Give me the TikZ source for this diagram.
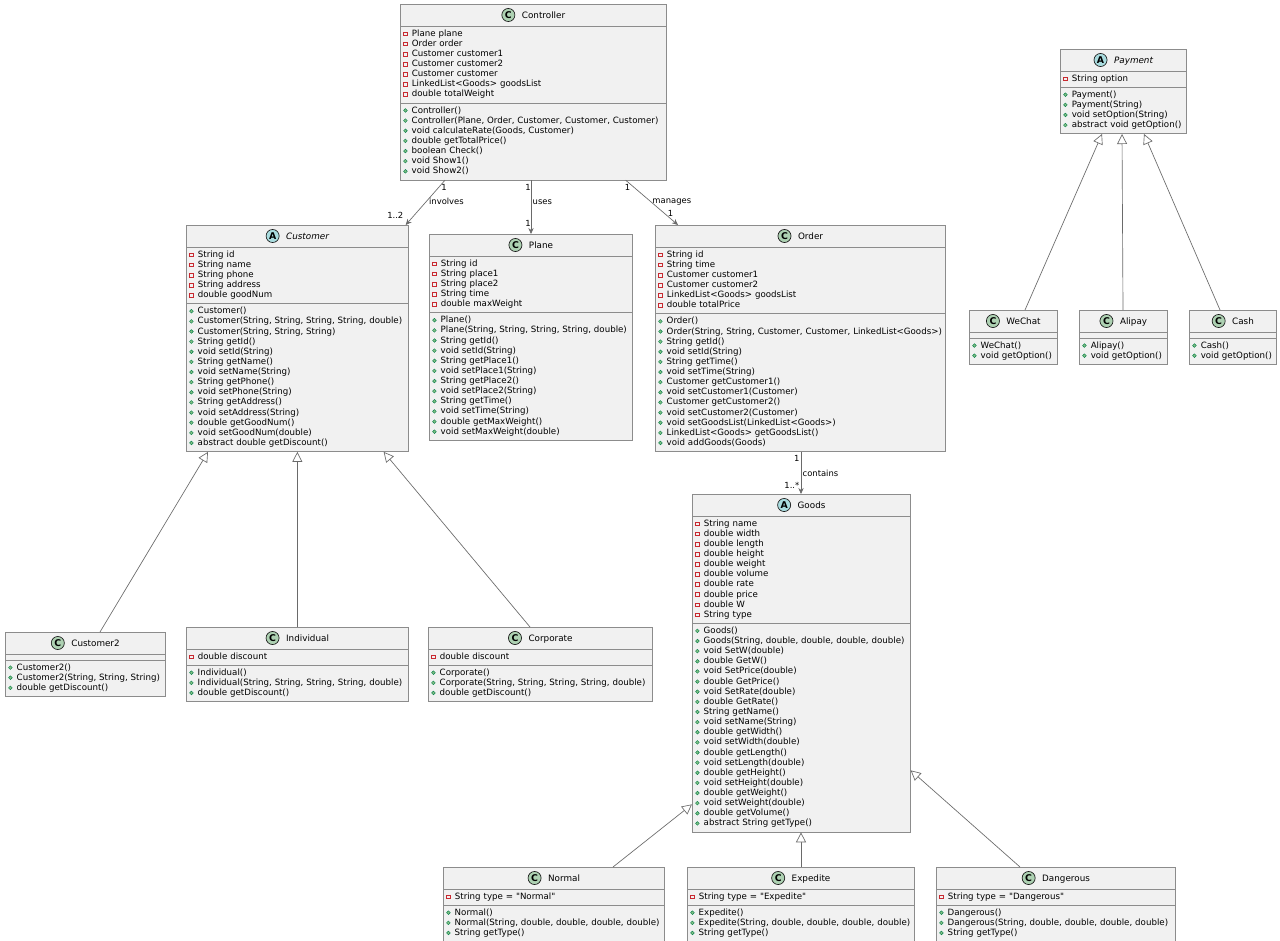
\documentclass[tikz,border=0pt]{standalone}
\usepackage{fontspec}
\setmainfont{DejaVu Sans}
\usetikzlibrary{arrows.meta,shapes.multipart,calc}

\definecolor{classbg}{HTML}{F1F1F1}
\definecolor{classline}{HTML}{8C8C8C}
\definecolor{edgecol}{HTML}{6A6A6A}
\definecolor{privcol}{HTML}{C82930}
\definecolor{pubfill}{HTML}{84BE84}
\definecolor{publine}{HTML}{038048}
\definecolor{iconC}{HTML}{ADD1B2}
\definecolor{iconA}{HTML}{A9DCDF}
\definecolor{iconline}{HTML}{181818}

% member markers and class header
\newcommand\pv{\strut\tikz[baseline=-0.4pt]\draw[privcol,line width=0.4pt] (0pt,0pt) rectangle (2.8pt,2.8pt);\hspace{3.2pt}}
\newcommand\pb{\strut\tikz[baseline=-1.9pt]\filldraw[fill=pubfill,draw=publine,line width=0.3pt] (0pt,0pt) circle (1.4pt);\hspace{3.2pt}}
\newcommand\hdr[3]{\hbox to\hsize{\hfil\rule[-3.6pt]{0pt}{11.75pt}\tikz[baseline=-2.4pt]\filldraw[fill=#1,draw=iconline,line width=0.5pt] (0pt,0pt) circle (4.9pt);\llap{\makebox[10.3pt]{\fontsize{7}{7}\selectfont\bfseries #2}}\hspace{5pt}{\fontsize{6.6}{7.6}\selectfont #3}\hfil}}

\tikzset{
  umlclass/.style={rectangle split, rectangle split parts=3, draw=classline, fill=classbg,
    line width=0.5pt, anchor=north west, align=left, inner xsep=2.25pt, inner ysep=2pt,
    font=\fontsize{6.5}{7.6}\selectfont},
  assoc/.style={draw=edgecol, line width=0.5pt, -{Stealth[length=4.5pt,width=4pt]}},
  inherit/.style={draw=edgecol, line width=0.5pt, -{Triangle[length=7.5pt,width=7.5pt,fill=white]}},
  mult/.style={font=\fontsize{6.3}{7}\selectfont, inner sep=1pt}
}

\begin{document}
\begin{tikzpicture}[x=0.75pt,y=-0.75pt]
  \path[use as bounding box, fill=white] (0,0) rectangle (1280,941);

  \node[umlclass, text width=195pt] (ctrl) at (400,4) {\hdr{iconC}{C}{Controller}
    \nodepart{two}\pv Plane plane\\\pv Order order\\\pv Customer customer1\\\pv Customer customer2\\
    \pv Customer customer\\\pv LinkedList<Goods> goodsList\\\pv double totalWeight
    \nodepart{three}\pb Controller()\\\pb Controller(Plane, Order, Customer, Customer, Customer)\\
    \pb void calculateRate(Goods, Customer)\\\pb double getTotalPrice()\\\pb boolean Check()\\
    \pb void Show1()\\\pb void Show2()};

  \node[umlclass, text width=162pt] (cust) at (186,225) {\hdr{iconA}{A}{\itshape Customer}
    \nodepart{two}\pv String id\\\pv String name\\\pv String phone\\\pv String address\\\pv double goodNum
    \nodepart{three}\pb Customer()\\\pb Customer(String, String, String, String, double)\\
    \pb Customer(String, String, String)\\\pb String getId()\\\pb void setId(String)\\
    \pb String getName()\\\pb void setName(String)\\\pb String getPhone()\\\pb void setPhone(String)\\
    \pb String getAddress()\\\pb void setAddress(String)\\\pb double getGoodNum()\\
    \pb void setGoodNum(double)\\\pb abstract double getDiscount()};

  \node[umlclass, text width=147.75pt] (plane) at (429,234) {\hdr{iconC}{C}{Plane}
    \nodepart{two}\pv String id\\\pv String place1\\\pv String place2\\\pv String time\\\pv double maxWeight
    \nodepart{three}\pb Plane()\\\pb Plane(String, String, String, String, double)\\\pb String getId()\\
    \pb void setId(String)\\\pb String getPlace1()\\\pb void setPlace1(String)\\\pb String getPlace2()\\
    \pb void setPlace2(String)\\\pb String getTime()\\\pb void setTime(String)\\
    \pb double getMaxWeight()\\\pb void setMaxWeight(double)};

  \node[umlclass, text width=213pt] (order) at (655,225) {\hdr{iconC}{C}{Order}
    \nodepart{two}\pv String id\\\pv String time\\\pv Customer customer1\\\pv Customer customer2\\
    \pv LinkedList<Goods> goodsList\\\pv double totalPrice
    \nodepart{three}\pb Order()\\\pb Order(String, String, Customer, Customer, LinkedList<Goods>)\\
    \pb String getId()\\\pb void setId(String)\\\pb String getTime()\\\pb void setTime(String)\\
    \pb Customer getCustomer1()\\\pb void setCustomer1(Customer)\\\pb Customer getCustomer2()\\
    \pb void setCustomer2(Customer)\\\pb void setGoodsList(LinkedList<Goods>)\\
    \pb LinkedList<Goods> getGoodsList()\\\pb void addGoods(Goods)};

  \node[umlclass, text width=90pt] (pay) at (1060,49) {\hdr{iconA}{A}{\itshape Payment}
    \nodepart{two}\pv String option
    \nodepart{three}\pb Payment()\\\pb Payment(String)\\\pb void setOption(String)\\\pb abstract void getOption()};
  \node[umlclass, text width=61.5pt] (wechat) at (969,310) {\hdr{iconC}{C}{WeChat}
    \nodepart{two}\nodepart{three}\pb WeChat()\\\pb void getOption()};
  \node[umlclass, text width=61.5pt] (alipay) at (1079,310) {\hdr{iconC}{C}{Alipay}
    \nodepart{two}\nodepart{three}\pb Alipay()\\\pb void getOption()};
  \node[umlclass, text width=60.75pt] (cash) at (1189,310) {\hdr{iconC}{C}{Cash}
    \nodepart{two}\nodepart{three}\pb Cash()\\\pb void getOption()};

  \node[umlclass, text width=115.5pt] (cust2) at (5,632) {\hdr{iconC}{C}{Customer2}
    \nodepart{two}\nodepart{three}\pb Customer2()\\\pb Customer2(String, String, String)\\\pb double getDiscount()};
  \node[umlclass, text width=162pt] (indiv) at (186,627) {\hdr{iconC}{C}{Individual}
    \nodepart{two}\pv double discount
    \nodepart{three}\pb Individual()\\\pb Individual(String, String, String, String, double)\\\pb double getDiscount()};
  \node[umlclass, text width=163.5pt] (corp) at (428,627) {\hdr{iconC}{C}{Corporate}
    \nodepart{two}\pv double discount
    \nodepart{three}\pb Corporate()\\\pb Corporate(String, String, String, String, double)\\\pb double getDiscount()};

  \node[umlclass, text width=159pt] (goods) at (692,494) {\hdr{iconA}{A}{Goods}
    \nodepart{two}\pv String name\\\pv double width\\\pv double length\\\pv double height\\\pv double weight\\
    \pv double volume\\\pv double rate\\\pv double price\\\pv double W\\\pv String type
    \nodepart{three}\pb Goods()\\\pb Goods(String, double, double, double, double)\\\pb void SetW(double)\\
    \pb double GetW()\\\pb void SetPrice(double)\\\pb double GetPrice()\\\pb void SetRate(double)\\
    \pb double GetRate()\\\pb String getName()\\\pb void setName(String)\\\pb double getWidth()\\
    \pb void setWidth(double)\\\pb double getLength()\\\pb void setLength(double)\\\pb double getHeight()\\
    \pb void setHeight(double)\\\pb double getWeight()\\\pb void setWeight(double)\\\pb double getVolume()\\
    \pb abstract String getType()};

  \node[umlclass, text width=161.25pt] (normal) at (443,867) {\hdr{iconC}{C}{Normal}
    \nodepart{two}\pv String type = \textquotedbl Normal\textquotedbl
    \nodepart{three}\pb Normal()\\\pb Normal(String, double, double, double, double)\\\pb String getType()};
  \node[umlclass, text width=165.75pt] (expedite) at (687,867) {\hdr{iconC}{C}{Expedite}
    \nodepart{two}\pv String type = \textquotedbl Expedite\textquotedbl
    \nodepart{three}\pb Expedite()\\\pb Expedite(String, double, double, double, double)\\\pb String getType()};
  \node[umlclass, text width=174.75pt] (danger) at (936,867) {\hdr{iconC}{C}{Dangerous}
    \nodepart{two}\pv String type = \textquotedbl Dangerous\textquotedbl
    \nodepart{three}\pb Dangerous()\\\pb Dangerous(String, double, double, double, double)\\\pb String getType()};

  % associations
  \draw[assoc] ($(ctrl.south west)+(45,0)$) -- node[mult,pos=0.17,right=1pt]{1}
    node[mult,pos=0.48,right=1pt]{involves} node[mult,pos=0.78,left=7pt]{1..2} ($(cust.north east)+(-3,0)$);
  \draw[assoc] ($(ctrl.south west)+(131,0)$) -- node[mult,pos=0.14,left=-1pt]{1}
    node[mult,pos=0.4,right]{uses} node[mult,pos=0.8,left=-1pt]{1} ($(plane.north west)+(102,0)$);
  \draw[assoc] ($(ctrl.south east)+(-41,0)$) -- node[mult,pos=0.17,left=2pt]{1}
    node[mult,pos=0.48,right]{manages} node[mult,pos=0.75,right=1pt]{1} ($(order.north west)+(23,0)$);
  \draw[assoc] ($(order.south west)+(146,0)$) -- node[mult,pos=0.16,left]{1}
    node[mult,pos=0.5,right]{contains} node[mult,pos=0.8,left]{1..*} ($(goods.north west)+(109,0)$);

  % generalisations
  \draw[inherit] ($(cust2.north west)+(95,0)$) -- ($(cust.south west)+(22,0)$);
  \draw[inherit] (indiv.north) -- (indiv.north |- cust.south);
  \draw[inherit] ($(corp.north west)+(102,0)$) -- ($(cust.south east)+(-25,0)$);
  \draw[inherit] ($(normal.north west)+(170,0)$) -- ($(goods.south west)+(0,-28)$);
  \draw[inherit] ($(expedite.north west)+(114,0)$) -- ($(goods.south west)+(109,0)$);
  \draw[inherit] ($(danger.north west)+(84,0)$) -- ($(goods.south east)+(0,-62)$);
  \draw[inherit] ($(wechat.north west)+(56,0)$) -- ($(pay.south west)+(42,0)$);
  \draw[inherit] ($(alipay.north west)+(44,0)$) -- ($(pay.south west)+(62,0)$);
  \draw[inherit] ($(cash.north west)+(31,0)$) -- ($(pay.south west)+(84,0)$);
\end{tikzpicture}
\end{document}
